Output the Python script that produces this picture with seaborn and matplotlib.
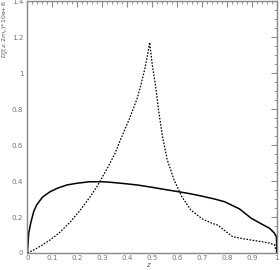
import numpy as np
import pandas as pd
import seaborn as sns
import matplotlib.pyplot as plt
from matplotlib.ticker import MultipleLocator

# solid curve
z_solid = [0.0, 0.005, 0.013, 0.025, 0.037, 0.06, 0.09, 0.12, 0.158, 0.2, 0.25, 0.3, 0.333,
           0.4, 0.44, 0.5, 0.55, 0.608, 0.65, 0.696, 0.75, 0.79, 0.85, 0.897, 0.94,
           0.971, 0.99, 0.998, 1.0]
d_solid = [0.0, 0.11, 0.165, 0.23, 0.267, 0.31, 0.34, 0.36, 0.378, 0.388, 0.396, 0.396, 0.393,
           0.384, 0.378, 0.365, 0.353, 0.34, 0.33, 0.317, 0.3, 0.285, 0.245, 0.193, 0.16,
           0.137, 0.11, 0.09, 0.0]

# dashed curve
z_dash = [0.0, 0.03, 0.06, 0.09, 0.13, 0.17, 0.21, 0.25, 0.279, 0.32, 0.35, 0.373, 0.41,
          0.44, 0.454, 0.47, 0.48, 0.49, 0.5, 0.514, 0.527, 0.541, 0.56, 0.588, 0.62,
          0.655, 0.7, 0.74, 0.763, 0.79, 0.823, 0.87, 0.937, 0.97, 0.99, 1.0]
d_dash = [0.0, 0.02, 0.045, 0.072, 0.115, 0.17, 0.235, 0.31, 0.37, 0.47, 0.55, 0.63, 0.75,
          0.86, 0.93, 1.02, 1.09, 1.17, 1.05, 0.924, 0.78, 0.65, 0.52, 0.405, 0.31,
          0.239, 0.19, 0.165, 0.155, 0.125, 0.09, 0.078, 0.063, 0.055, 0.045, 0.0]

sns.set_style("white")

fig = plt.figure(figsize=(2.8, 2.7), dpi=100)
ax = fig.add_axes([0.098, 0.063, 0.891, 0.933])

sns.lineplot(x=z_solid, y=d_solid, ax=ax, color="black", lw=1.1, sort=False)
sns.lineplot(x=z_dash, y=d_dash, ax=ax, color="black", lw=0.9, ls=(0, (1.3, 1.2)), sort=False)

ax.set_xlim(0, 1)
ax.set_ylim(0, 1.4)
ax.xaxis.set_major_locator(MultipleLocator(0.1))
ax.xaxis.set_minor_locator(MultipleLocator(0.02))
ax.yaxis.set_major_locator(MultipleLocator(0.2))
ax.yaxis.set_minor_locator(MultipleLocator(0.05))
ax.set_xticks(np.arange(0, 1.01, 0.1))
ax.set_xticklabels(["0", "0.1", "0.2", "0.3", "0.4", "0.5", "0.6", "0.7", "0.8", "0.9", "1"])
ax.set_yticks(np.arange(0, 1.41, 0.2))
ax.set_yticklabels(["0", "0.2", "0.4", "0.6", "0.8", "1", "1.2", "1.4"])

grey = "#888888"
for s in ax.spines.values():
    s.set_color(grey)
    s.set_linewidth(1.0)
ax.tick_params(which="both", direction="in", top=True, right=True, colors=grey,
               labelsize=5.2, labelcolor="#777777", pad=3)
ax.tick_params(axis="x", pad=1.5)
ax.tick_params(which="major", length=4, width=0.8)
ax.tick_params(which="minor", length=2, width=0.6)

fig.text(148 / 280, 1 - 265 / 270, "z", fontsize=5, style="italic", color="#555555",
         ha="center", va="center")
fig.text(0.0, 0.998, r"$D_g^{\pi}(z,2m_c)$*10e+6", rotation=90, fontsize=4.5,
         color="#555555", ha="left", va="top")

fig.savefig("out.png", dpi=100)
